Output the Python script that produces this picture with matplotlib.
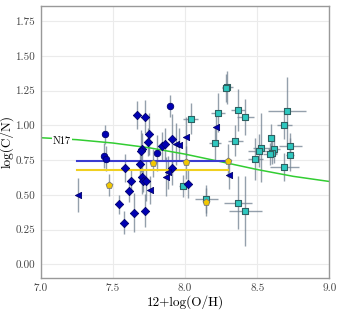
import numpy as np
import matplotlib
matplotlib.use("Agg")
from matplotlib import pyplot as plt

plt.rcParams['font.family'] = 'serif'
plt.rcParams['font.serif'] = ['cmr10', 'DejaVu Serif']
plt.rcParams['axes.formatter.use_mathtext'] = True
plt.rcParams['mathtext.fontset'] = 'cm'

# blue diamonds: 12+log(O/H), log(C/N), err
dia_x = [7.545, 7.665, 7.723, 7.748, 7.741, 7.704, 7.692, 7.838, 7.863, 7.908, 7.586,
         7.690, 7.700, 7.711, 7.728, 7.628, 7.612, 7.645, 7.723, 7.579, 7.910, 8.019]
dia_y = [0.432, 1.077, 1.063, 0.940, 0.880, 0.828, 0.816, 0.852, 0.864, 0.900, 0.692,
         0.722, 0.626, 0.602, 0.602, 0.600, 0.528, 0.372, 0.386, 0.300, 0.690, 0.578]
dia_e = [0.07, 0.10, 0.12, 0.15, 0.10, 0.12, 0.15, 0.10, 0.12, 0.18, 0.10,
         0.12, 0.12, 0.08, 0.15, 0.08, 0.08, 0.14, 0.12, 0.08, 0.12, 0.10]

# blue circles
cir_x = [7.448, 7.439, 7.450, 7.898, 7.806]
cir_y = [0.936, 0.782, 0.758, 1.137, 0.799]
cir_e = [0.07, 0.09, 0.09, 0.08, 0.13]

# blue triangles
tri_x = [7.261, 7.936, 7.960, 8.007, 7.755, 7.885, 7.869, 8.213, 8.303]
tri_y = [0.499, 0.868, 0.861, 0.919, 0.535, 0.662, 0.631, 0.991, 0.645]
tri_e = [0.12, 0.15, 0.12, 0.14, 0.10, 0.12, 0.14, 0.12, 0.10]

# yellow pentagons
pen_x = [7.475, 7.776, 8.007, 8.300, 8.148]
pen_y = [0.573, 0.731, 0.734, 0.746, 0.451]
pen_e = [0.08, 0.10, 0.12, 0.12, 0.10]

# cyan squares (x and y errors)
sq_x = [8.293, 8.285, 8.039, 8.227, 8.367, 8.418, 8.206, 8.349, 8.707, 8.688, 8.598, 8.529,
        8.515, 8.615, 8.605, 8.587, 8.729, 8.726, 8.487, 8.686, 7.988, 8.148, 8.367, 8.418]
sq_y = [1.274, 1.268, 1.048, 1.091, 1.111, 1.063, 0.871, 0.890, 1.101, 1.003, 0.912, 0.839,
        0.818, 0.832, 0.804, 0.792, 0.852, 0.789, 0.760, 0.700, 0.564, 0.470, 0.444, 0.382]
sq_xe = [0.04, 0.03, 0.05, 0.05, 0.05, 0.06, 0.04, 0.05, 0.13, 0.05, 0.02, 0.06,
         0.08, 0.04, 0.03, 0.05, 0.08, 0.03, 0.05, 0.10, 0.03, 0.08, 0.10, 0.115]
sq_ye = [0.12, 0.10, 0.11, 0.14, 0.15, 0.13, 0.12, 0.11, 0.25, 0.10, 0.10, 0.25,
         0.12, 0.10, 0.08, 0.08, 0.09, 0.12, 0.15, 0.10, 0.08, 0.10, 0.19, 0.25]

# N17 curve
n17_x = [7.0, 7.25, 7.5, 7.75, 8.0, 8.25, 8.5, 8.75, 9.0]
n17_y = [0.911, 0.897, 0.873, 0.839, 0.793, 0.738, 0.682, 0.633, 0.596]

# mean lines
blue_mean = 0.745
yellow_mean = 0.679
mean_range = [7.25, 8.30]

fig = plt.figure(figsize=(3.41, 3.10), dpi=100)
ax = fig.add_axes([0.119, 0.104, 0.847, 0.877])

ebar = dict(fmt='none', ecolor='slategray', elinewidth=1.0, alpha=0.75, zorder=1)
ax.errorbar(dia_x, dia_y, yerr=dia_e, **ebar)
ax.errorbar(cir_x, cir_y, yerr=cir_e, **ebar)
ax.errorbar(tri_x, tri_y, yerr=tri_e, **ebar)
ax.errorbar(pen_x, pen_y, yerr=pen_e, **ebar)
ax.errorbar(sq_x, sq_y, xerr=sq_xe, yerr=sq_ye, **ebar)

ax.plot(n17_x, n17_y, color='limegreen', lw=1.1, zorder=2)
ax.text(7.15, 0.887, 'N17', fontsize=7.5, ha='center', va='center', zorder=3,
        bbox=dict(facecolor='white', edgecolor='none', pad=0.5))

ax.plot(mean_range, [blue_mean, blue_mean], color='#3a3ad0', lw=1.5, zorder=2)
ax.plot(mean_range, [yellow_mean, yellow_mean], color='#f0d020', lw=1.5, zorder=2)

ax.scatter(sq_x, sq_y, marker='s', s=20, color='#2ec8c0', edgecolors='#2f5f60', linewidths=0.8, zorder=4)
ax.scatter(dia_x, dia_y, marker='D', s=18, color='#0000b4', edgecolors='#00006a', linewidths=0.6, zorder=5)
ax.scatter(cir_x, cir_y, marker='o', s=22, color='#0000b4', edgecolors='#00006a', linewidths=0.6, zorder=5)
ax.scatter(tri_x, tri_y, marker='<', s=20, color='#0000b4', edgecolors='#00006a', linewidths=0.6, zorder=5)
ax.scatter(pen_x, pen_y, marker='p', s=26, color='#f2c800', edgecolors='#777777', linewidths=0.6, zorder=6)

ax.set_xlim(7.0, 9.0)
ax.set_ylim(-0.097, 1.86)
ax.set_xticks([7.0, 7.5, 8.0, 8.5, 9.0])
ax.set_yticks([0.0, 0.25, 0.5, 0.75, 1.0, 1.25, 1.5, 1.75])
ax.set_yticklabels(['0.00', '0.25', '0.50', '0.75', '1.00', '1.25', '1.50', '1.75'])
ax.set_xticklabels(['7.0', '7.5', '8.0', '8.5', '9.0'])
ax.tick_params(length=0, labelsize=8, colors='#444444', pad=4)
ax.grid(True, color='#ebebeb', lw=0.8, zorder=0)
ax.set_axisbelow(True)
for s in ax.spines.values():
    s.set_color('#999999')
    s.set_linewidth(1.0)

ax.set_xlabel('12+log(O/H)', fontsize=9.5, labelpad=2)
ax.set_ylabel('log(C/N)', fontsize=9.5, labelpad=1)

fig.savefig('out.png', dpi=100)
